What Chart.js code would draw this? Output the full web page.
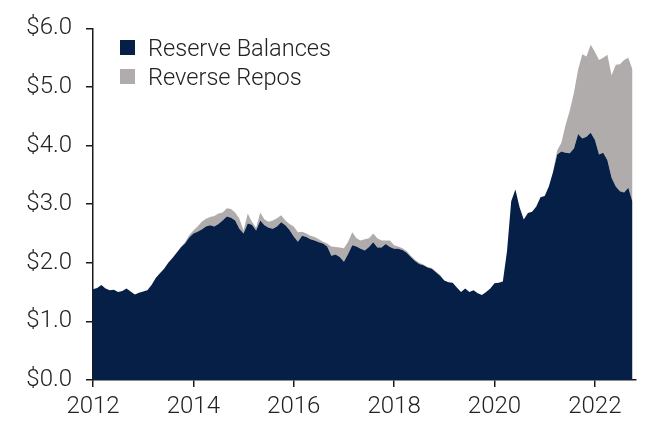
<!DOCTYPE html>
<html>
<head>
<meta charset="utf-8">
<script src="https://cdn.jsdelivr.net/npm/chart.js@4.4.1/dist/chart.umd.min.js"></script>
<style>
  html, body { margin: 0; padding: 0; background: #fff; }
  #wrap { position: relative; width: 654px; height: 423px; }
  #legend { position: absolute; left: 120px; top: 33px; font-family: Roboto, sans-serif; font-weight: 300; font-size: 23.6px; color: #222; }
  #legend div { display: flex; align-items: center; height: 29px; }
  #legend span.box { width: 15px; height: 15px; margin-right: 13px; display: inline-block; }
</style>
</head>
<body>
<div id="wrap">
  <canvas id="chart" width="654" height="423"></canvas>
  <div id="legend"></div>
</div>
<script>
// monthly, Jan 2012 .. Oct 2022 (trillions $)
const startYear = 2012;
const seriesNames = ["Reserve Balances", "Reverse Repos"];
const seriesColors = ["#061f47", "#b0acab"];

const reserves = [
  1.55, 1.57, 1.62, 1.56, 1.53, 1.54, 1.50, 1.52, 1.56, 1.51, 1.46, 1.49, // 2012
  1.51, 1.53, 1.62, 1.74, 1.82, 1.90, 2.00, 2.08, 2.17, 2.26, 2.33, 2.43, // 2013
  2.50, 2.53, 2.57, 2.62, 2.64, 2.62, 2.66, 2.72, 2.79, 2.77, 2.72, 2.58, // 2014
  2.50, 2.67, 2.65, 2.55, 2.72, 2.64, 2.60, 2.58, 2.62, 2.69, 2.64, 2.56, // 2015
  2.45, 2.36, 2.46, 2.44, 2.40, 2.38, 2.35, 2.33, 2.28, 2.12, 2.14, 2.10, // 2016
  2.02, 2.15, 2.30, 2.28, 2.24, 2.21, 2.27, 2.35, 2.26, 2.26, 2.32, 2.27, // 2017
  2.24, 2.24, 2.22, 2.17, 2.10, 2.03, 1.98, 1.96, 1.92, 1.90, 1.84, 1.78, // 2018
  1.70, 1.67, 1.66, 1.58, 1.50, 1.56, 1.50, 1.53, 1.48, 1.45, 1.50, 1.56, // 2019
  1.65, 1.66, 1.68, 2.20, 3.05, 3.25, 2.95, 2.74, 2.85, 2.87, 2.96, 3.12, // 2020
  3.14, 3.30, 3.55, 3.85, 3.90, 3.88, 3.87, 3.95, 4.20, 4.12, 4.15, 4.22, // 2021
  4.10, 3.85, 3.88, 3.75, 3.45, 3.30, 3.22, 3.20, 3.28, 3.04              // 2022
];

const reverseRepos = [
  0.00, 0.00, 0.00, 0.00, 0.00, 0.00, 0.00, 0.00, 0.00, 0.00, 0.00, 0.00, // 2012
  0.00, 0.00, 0.00, 0.00, 0.00, 0.00, 0.00, 0.00, 0.00, 0.01, 0.02, 0.04, // 2013
  0.05, 0.09, 0.13, 0.13, 0.14, 0.18, 0.18, 0.14, 0.14, 0.15, 0.14, 0.17, // 2014
  0.05, 0.17, 0.05, 0.05, 0.14, 0.10, 0.10, 0.14, 0.14, 0.12, 0.08, 0.10, // 2015
  0.17, 0.16, 0.07, 0.06, 0.06, 0.06, 0.05, 0.03, 0.05, 0.16, 0.13, 0.16, // 2016
  0.23, 0.21, 0.22, 0.14, 0.14, 0.19, 0.15, 0.15, 0.16, 0.12, 0.06, 0.11, // 2017
  0.06, 0.04, 0.03, 0.03, 0.02, 0.02, 0.02, 0.01, 0.01, 0.01, 0.01, 0.01, // 2018
  0.00, 0.00, 0.00, 0.00, 0.00, 0.00, 0.00, 0.00, 0.00, 0.00, 0.00, 0.00, // 2019
  0.00, 0.00, 0.00, 0.00, 0.00, 0.00, 0.00, 0.00, 0.00, 0.00, 0.00, 0.00, // 2020
  0.00, 0.00, 0.00, 0.07, 0.15, 0.47, 0.73, 0.95, 1.10, 1.44, 1.37, 1.50, // 2021
  1.50, 1.61, 1.62, 1.80, 1.75, 2.08, 2.17, 2.26, 2.22, 2.26              // 2022
];

const yearTicks = [2012, 2014, 2016, 2018, 2020, 2022];
const xMin = 2012, xMax = 2022.82;
const yMin = 0, yMax = 6, yStep = 1;

const textColor = "#222";
const axisColor = "#1a1a1a";
const tickFont = { family: "Roboto", weight: "300", size: 24 };

function toPoints(vals) {
  return vals.map((v, i) => ({ x: startYear + i / 12, y: v }));
}

// html legend
const legendEl = document.getElementById("legend");
seriesNames.forEach((name, i) => {
  legendEl.innerHTML += `<div><span class="box" style="background:${seriesColors[i]}"></span>${name}</div>`;
});

new Chart(document.getElementById("chart").getContext("2d"), {
  type: "line",
  data: {
    datasets: [
      {
        label: seriesNames[0],
        data: toPoints(reserves),
        backgroundColor: seriesColors[0],
        borderWidth: 0,
        pointRadius: 0,
        fill: "origin"
      },
      {
        label: seriesNames[1],
        data: toPoints(reverseRepos),
        backgroundColor: seriesColors[1],
        borderWidth: 0,
        pointRadius: 0,
        fill: "-1"
      }
    ]
  },
  options: {
    responsive: false,
    animation: false,
    devicePixelRatio: 1,
    layout: { padding: { top: 27, right: 18, left: 0, bottom: 0 } },
    plugins: {
      legend: { display: false },
      tooltip: { enabled: false }
    },
    scales: {
      x: {
        type: "linear",
        min: xMin,
        max: xMax,
        afterBuildTicks: s => { s.ticks = yearTicks.map(v => ({ value: v })); },
        afterFit: s => { s.height = 43; },
        border: { display: true, color: axisColor, width: 1.5 },
        grid: { drawOnChartArea: false, drawTicks: true, tickLength: 7, color: axisColor, lineWidth: 1.5 },
        ticks: { color: textColor, font: tickFont, padding: 6, maxRotation: 0, callback: v => String(v) }
      },
      y: {
        stacked: true,
        min: yMin,
        max: yMax,
        afterFit: s => { s.width = 93; },
        border: { display: true, color: axisColor, width: 1.5 },
        grid: { drawOnChartArea: false, drawTicks: true, tickLength: 7, color: axisColor, lineWidth: 1.5 },
        ticks: { stepSize: yStep, color: textColor, font: tickFont, padding: 14, callback: v => "$" + v.toFixed(1) }
      }
    }
  }
});
</script>
</body>
</html>
